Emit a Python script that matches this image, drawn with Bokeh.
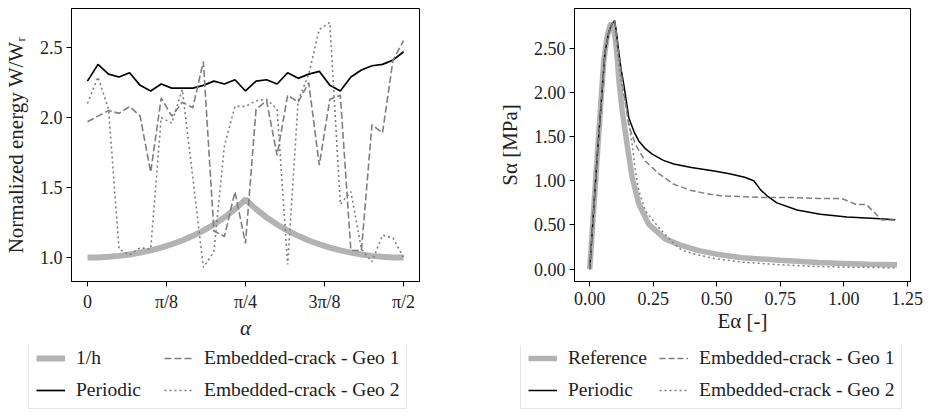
import numpy as np
from bokeh.plotting import figure
from bokeh.models import (Range1d, FixedTicker, CustomJSTickFormatter,
                          NumeralTickFormatter, Legend, LegendItem)
from bokeh.layouts import row, column
from bokeh.embed import file_html
from bokeh.resources import INLINE

FONT = "Liberation Serif"
TICK_FS = "18px"
LABEL_FS = "21px"
LEGEND_FS = "19.5px"

# ---- left panel: normalized energy versus crack orientation ----
alpha = np.linspace(0.0, np.pi / 2, 31)  # sampled orientations
alpha_ticks = [0.0, np.pi / 8, np.pi / 4, 3 * np.pi / 8, np.pi / 2]
alpha_tick_labels = ["0", "π/8", "π/4", "3π/8", "π/2"]
energy_ticks = [1.0, 1.5, 2.0, 2.5]

inv_h = [1.000, 1.001, 1.006, 1.012, 1.022, 1.035, 1.051, 1.071, 1.095, 1.122,
         1.155, 1.192, 1.236, 1.287, 1.346, 1.414, 1.346, 1.287, 1.236, 1.192,
         1.155, 1.122, 1.095, 1.071, 1.051, 1.035, 1.022, 1.012, 1.006, 1.001, 1.000]
energy_periodic = [2.26, 2.38, 2.31, 2.29, 2.32, 2.23, 2.19, 2.24, 2.21, 2.21,
                   2.21, 2.23, 2.26, 2.24, 2.27, 2.19, 2.26, 2.27, 2.24, 2.32,
                   2.28, 2.31, 2.33, 2.23, 2.19, 2.29, 2.34, 2.37, 2.38, 2.41, 2.47]
energy_geo1 = [1.97, 2.01, 2.05, 2.03, 2.08, 2.01, 1.61, 2.14, 2.01, 2.11,
               2.07, 2.40, 1.19, 1.15, 1.47, 1.10, 2.06, 2.12, 1.73, 2.16,
               2.11, 2.25, 1.66, 2.13, 2.16, 1.05, 1.05, 1.95, 1.89, 2.41, 2.55]
energy_geo2 = [2.10, 2.29, 2.06, 1.06, 1.02, 1.07, 1.06, 2.00, 1.96, 2.20,
               1.57, 0.93, 1.04, 1.80, 2.08, 2.08, 2.12, 2.13, 2.06, 0.95,
               2.12, 2.31, 2.63, 2.68, 1.38, 1.47, 1.06, 0.97, 1.16, 1.14, 1.00]

# ---- right panel: stress-strain response ----
strain_ticks = [0.0, 0.25, 0.5, 0.75, 1.0, 1.25]
stress_ticks = [0.0, 0.5, 1.0, 1.5, 2.0, 2.5]

ref_e = [0.0, 0.03, 0.055, 0.068, 0.078, 0.085, 0.092, 0.100, 0.108, 0.114,
         0.128, 0.147, 0.167, 0.193, 0.232, 0.298, 0.36, 0.43, 0.50, 0.60,
         0.75, 0.90, 1.00, 1.10, 1.21]
ref_s = [0.0, 1.30, 2.35, 2.62, 2.74, 2.78, 2.74, 2.62, 2.40, 2.16,
         1.79, 1.41, 1.04, 0.74, 0.51, 0.34, 0.27, 0.21, 0.17, 0.13,
         0.10, 0.075, 0.065, 0.055, 0.05]

per_e = [0.0, 0.03, 0.06, 0.075, 0.087, 0.098, 0.104, 0.114, 0.124, 0.134,
         0.154, 0.175, 0.193, 0.22, 0.246, 0.29, 0.331, 0.40, 0.49, 0.55,
         0.61, 0.646, 0.672, 0.698, 0.737, 0.816, 0.908, 1.013, 1.144, 1.203]
per_s = [0.0, 1.30, 2.45, 2.68, 2.77, 2.81, 2.70, 2.46, 2.25, 2.09,
         1.71, 1.55, 1.45, 1.36, 1.30, 1.23, 1.19, 1.15, 1.11, 1.08,
         1.04, 1.00, 0.90, 0.83, 0.75, 0.67, 0.62, 0.59, 0.57, 0.56]

geo1_e = [0.0, 0.03, 0.06, 0.075, 0.087, 0.098, 0.104, 0.114, 0.124, 0.134,
          0.154, 0.18, 0.219, 0.272, 0.331, 0.40, 0.45, 0.514, 0.60, 0.685,
          0.80, 0.90, 0.974, 1.00, 1.05, 1.09, 1.15, 1.203]
geo1_s = [0.0, 1.30, 2.45, 2.68, 2.77, 2.81, 2.70, 2.46, 2.22, 2.00,
          1.62, 1.41, 1.22, 1.08, 0.96, 0.89, 0.86, 0.83, 0.82, 0.81,
          0.81, 0.80, 0.80, 0.79, 0.73, 0.73, 0.556, 0.555]

geo2_e = [0.0, 0.03, 0.06, 0.075, 0.087, 0.098, 0.106, 0.121, 0.147, 0.167,
          0.180, 0.193, 0.219, 0.272, 0.331, 0.36, 0.40, 0.49, 0.60, 0.75,
          0.90, 1.00, 1.21]
geo2_s = [0.0, 1.30, 2.45, 2.68, 2.77, 2.81, 2.55, 2.16, 1.79, 1.41,
          1.11, 0.89, 0.66, 0.47, 0.29, 0.22, 0.18, 0.12, 0.08, 0.05,
          0.03, 0.025, 0.015]

left_legend_labels = ["1/h", "Periodic", "Embedded-crack - Geo 1", "Embedded-crack - Geo 2"]
right_legend_labels = ["Reference", "Periodic", "Embedded-crack - Geo 1", "Embedded-crack - Geo 2"]

THICK_GREY = "#b3b3b3"
MID_GREY = "#7f7f7f"
TEXT = "#222222"

# line styles (colour, width, dash) for the left and right panels
LEFT_STYLES = [
    (THICK_GREY, 6, "solid"),
    ("black", 1.7, "solid"),
    (MID_GREY, 1.6, "7 3"),
    (MID_GREY, 1.6, "2 3"),
]
RIGHT_STYLES = [
    (THICK_GREY, 5.5, "solid"),
    ("black", 1.5, "solid"),
    (MID_GREY, 1.5, "6 3"),
    (MID_GREY, 1.5, "2 3"),
]

PLOT_H = 345
LEGEND_H = 417 - PLOT_H


def style(p):
    p.outline_line_color = "black"
    p.outline_line_width = 1
    p.grid.visible = False
    p.background_fill_color = "white"
    p.border_fill_color = "white"
    for ax in (p.xaxis[0], p.yaxis[0]):
        ax.axis_line_color = "black"
        ax.axis_line_width = 1
        ax.major_tick_line_color = "black"
        ax.major_tick_out = 5
        ax.major_tick_in = 0
        ax.minor_tick_line_color = None
        ax.major_label_text_font = FONT
        ax.major_label_text_font_size = TICK_FS
        ax.major_label_text_color = TEXT
        ax.axis_label_text_font = FONT
        ax.axis_label_text_font_size = LABEL_FS
        ax.axis_label_text_font_style = "normal"
        ax.axis_label_text_color = TEXT
    p.xaxis[0].major_label_standoff = 5
    p.yaxis[0].major_label_standoff = 4
    p.xaxis[0].axis_label_standoff = 1
    p.yaxis[0].axis_label_standoff = 9


def legend_panel(labels, styles, width, x_left, first_col_width):
    """A bare canvas carrying only the boxed two-column legend."""
    f = figure(width=width, height=LEGEND_H, output_backend="svg",
               toolbar_location=None, x_axis_type=None, y_axis_type=None,
               x_range=Range1d(0, 1), y_range=Range1d(0, 1), min_border=0)
    f.outline_line_color = None
    f.grid.visible = False
    items = []
    for lab, (col, lw, dash) in zip(labels, styles):
        # key-only line kept outside the visible range of this canvas
        r = f.line([5, 6], [5, 6], line_color=col, line_width=lw, line_dash=dash)
        items.append(LegendItem(label=lab, renderers=[r]))
    leg = Legend(items=items, location=(x_left, 8), orientation="vertical", nrows=2)
    leg.label_text_font = FONT
    leg.label_text_font_size = LEGEND_FS
    leg.label_text_color = TEXT
    leg.glyph_width = 29
    leg.glyph_height = 22
    leg.label_height = 22
    leg.label_width = first_col_width
    leg.label_standoff = 11
    leg.spacing = 10
    leg.padding = 7
    leg.margin = 0
    leg.border_line_color = "#cccccc"
    leg.border_line_width = 1
    leg.background_fill_alpha = 0.8
    f.add_layout(leg)
    return f


# left figure
left = figure(width=464, height=PLOT_H, output_backend="svg", toolbar_location=None,
              x_range=Range1d(-0.0793, 1.650), y_range=Range1d(0.829, 2.779),
              min_border_left=70, min_border_right=45, min_border_top=8,
              min_border_bottom=PLOT_H - 281)
style(left)
left.xaxis.ticker = FixedTicker(ticks=alpha_ticks)
left.xaxis.formatter = CustomJSTickFormatter(
    args=dict(labels=alpha_tick_labels),
    code="return labels[Math.round(tick / (Math.PI / 8))];")
left.yaxis.ticker = FixedTicker(ticks=energy_ticks)
left.yaxis.formatter = NumeralTickFormatter(format="0.0")
left.xaxis.axis_label = "α"
left.xaxis.axis_label_text_font_style = "italic"
left.yaxis.axis_label = "Normalized energy W/Wᵣ"

for ys, (col, lw, dash) in zip([inv_h, energy_periodic, energy_geo1, energy_geo2], LEFT_STYLES):
    left.line(alpha, ys, line_color=col, line_width=lw, line_dash=dash)

# right figure
right = figure(width=465, height=PLOT_H, output_backend="svg", toolbar_location=None,
               x_range=Range1d(-0.060, 1.263), y_range=Range1d(-0.139, 2.947),
               min_border_left=110, min_border_right=19, min_border_top=7,
               min_border_bottom=PLOT_H - 281)
style(right)
right.xaxis.ticker = FixedTicker(ticks=strain_ticks)
right.xaxis.formatter = NumeralTickFormatter(format="0.00")
right.yaxis.ticker = FixedTicker(ticks=stress_ticks)
right.yaxis.formatter = NumeralTickFormatter(format="0.00")
right.xaxis.axis_label = "Eα [-]"
right.yaxis.axis_label = "Sα [MPa]"

right_series = [(ref_e, ref_s), (per_e, per_s), (geo1_e, geo1_s), (geo2_e, geo2_s)]
for (xs, ys), (col, lw, dash) in zip(right_series, RIGHT_STYLES):
    right.line(xs, ys, line_color=col, line_width=lw, line_dash=dash)

left_leg = legend_panel(left_legend_labels, LEFT_STYLES, 464, 28, 78)
right_leg = legend_panel(right_legend_labels, RIGHT_STYLES, 465, 56, 81)

layout = column(row(left, right), row(left_leg, right_leg))
open("out.html", "w").write(file_html(layout, INLINE))
